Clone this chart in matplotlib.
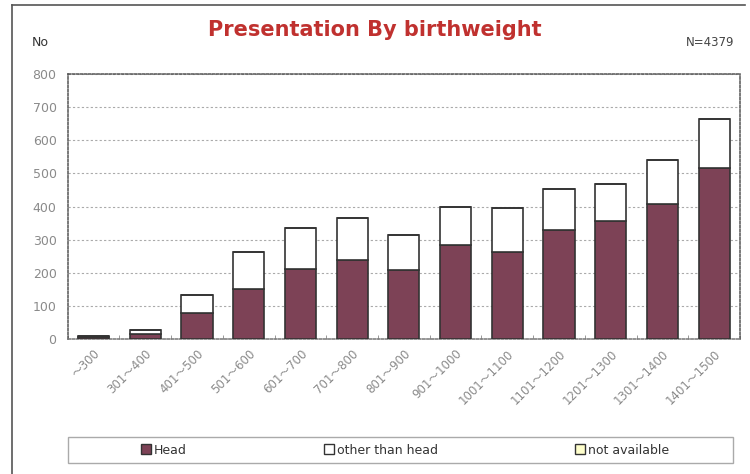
import matplotlib
matplotlib.use("Agg")
import matplotlib.pyplot as plt
from matplotlib.patches import Patch, Rectangle
from matplotlib.lines import Line2D
import numpy as np

categories = ["～300", "301～400", "401～500", "501～600", "601～700", "701～800",
              "801～900", "901～1000", "1001～1100", "1101～1200", "1201～1300",
              "1301～1400", "1401～1500"]
head = [6, 16, 79, 150, 211, 240, 209, 285, 264, 329, 357, 407, 515]
other = [4, 10, 53, 112, 123, 125, 105, 112, 131, 123, 110, 133, 149]
not_available = [0, 0, 0, 0, 0, 0, 0, 0, 0, 0, 0, 0, 0]
yticks = [0, 100, 200, 300, 400, 500, 600, 700, 800]

head_color = "#7D4256"
na_color = "#FFFFCC"
edge = "#333333"
grey_text = "#8a8a8a"

fam = ["DejaVu Sans", "Noto Sans CJK JP"]

fig = plt.figure(figsize=(7.5, 4.74), dpi=100)
W, H = 750, 474
ax = fig.add_axes([67.7 / W, 1 - 339 / H, (740 - 67.7) / W, (339 - 74) / H])

x = np.arange(len(categories))
ax.bar(x, head, width=0.6, color=head_color, edgecolor=edge, linewidth=1.2, zorder=3)
ax.bar(x, other, width=0.6, bottom=head, color="white", edgecolor=edge, linewidth=1.2, zorder=3)
bot2 = [h + o for h, o in zip(head, other)]
ax.bar(x, not_available, width=0.6, bottom=bot2, color=na_color, edgecolor=edge, linewidth=1.2, zorder=3)

ax.set_xlim(-0.5, len(categories) - 0.5)
ax.set_ylim(0, 800)
ax.set_yticks(yticks)
ax.set_yticklabels([str(v) for v in yticks], color=grey_text, fontsize=9)
ax.tick_params(axis="y", length=0, pad=8)
ax.set_xticks(x)
ax.set_xticklabels(categories, rotation=45, ha="right", rotation_mode="anchor",
                   color=grey_text, fontsize=8.5, family=fam)
ax.tick_params(axis="x", length=0, pad=6)
ax.set_xticks(np.arange(len(categories) + 1) - 0.5, minor=True)
ax.tick_params(axis="x", which="minor", direction="in", length=3, color="#888888")

ax.grid(axis="y", linestyle=(0, (2, 2)), color="#aaaaaa", linewidth=0.8, zorder=0)
for s in ax.spines.values():
    s.set_linestyle((0, (1.5, 1.2)))
    s.set_color("#555555")
    s.set_linewidth(1.1)
ax.spines["bottom"].set_color("#777777")

fig.text(375 / W, 1 - 30 / H, "Presentation By birthweight", ha="center", va="center",
         fontsize=15, fontweight="bold", color="#C0312F")
fig.text(32 / W, 1 - 42 / H, "No", ha="left", va="center", fontsize=9, color="#333333")
fig.text(734 / W, 1 - 42 / H, "N=4379", ha="right", va="center", fontsize=8.5, color="#444444")

# outer frame lines
fig.add_artist(Line2D([12 / W, 12 / W], [0, 1 - 5 / H], color="#555555", linewidth=1.2))
fig.add_artist(Line2D([12 / W, 745 / W], [1 - 5 / H, 1 - 5 / H], color="#555555", linewidth=1.2))

# legend box
fig.add_artist(Rectangle((68 / W, 1 - 463 / H), (733 - 68) / W, 26 / H, transform=fig.transFigure,
                         facecolor="white", edgecolor="#aaaaaa", linewidth=1.0))
handles = [Patch(facecolor=head_color, edgecolor=edge, label="Head"),
           Patch(facecolor="white", edgecolor=edge, label="other than head"),
           Patch(facecolor=na_color, edgecolor=edge, label="not available")]
fig.legend(handles=handles, loc="center", bbox_to_anchor=(405 / W, 1 - 450 / H), ncol=3,
           frameon=False, fontsize=9, handlelength=0.8, handleheight=0.8,
           handletextpad=0.2, columnspacing=11.0, labelcolor="#333333")

fig.savefig("out.png", dpi=100)
